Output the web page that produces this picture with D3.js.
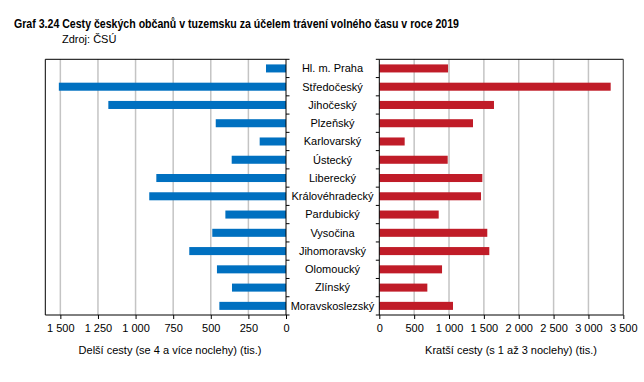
<!DOCTYPE html>
<html><head><meta charset="utf-8">
<script src="https://cdn.jsdelivr.net/npm/d3@7"></script>
<style>
body{margin:0;background:#fff;}
svg{display:block;font-family:"Liberation Sans",Arial,sans-serif;}
</style></head>
<body>
<svg id="c" width="644" height="382"></svg>
<script>
const categories = ["Hl. m. Praha","Středočeský","Jihočeský","Plzeňský","Karlovarský","Ústecký","Liberecký","Královéhradecký","Pardubický","Vysočina","Jihomoravský","Olomoucký","Zlínský","Moravskoslezský"];
const longTrips = [133,1510,1181,467,175,361,862,909,403,490,643,459,359,443];
const shortTrips = [986,3319,1645,1344,364,981,1478,1459,852,1549,1578,900,689,1057];
const leftTicks = [0,250,500,750,1000,1250,1500];
const rightTicks = [0,500,1000,1500,2000,2500,3000,3500];
const title = "Graf 3.24 Cesty českých občanů v tuzemsku za účelem trávení volného času v roce 2019";
const source = "Zdroj: ČSÚ";
const leftTitle = "Delší cesty (se 4 a více noclehy) (tis.)";
const rightTitle = "Kratší cesty (s 1 až 3 noclehy) (tis.)";

const svg = d3.select("#c");
const plotTop = 59.3, plotBottom = 315;
const fmt = v => d3.format(",")(v).replace(/,/g, " ");

const y = d3.scaleBand().domain(categories).range([plotTop, plotBottom]).paddingInner(0.56).paddingOuter(0.28);
const xL = d3.scaleLinear().domain([0,1600]).range([286,45.3]);
const xR = d3.scaleLinear().domain([0,3500]).range([379.3,623.3]);

// Title
svg.append("text").attr("x",14).attr("y",28).attr("font-size",13.5).attr("font-weight","bold")
  .attr("font-family","'Liberation Sans Narrow','Arial Narrow','Liberation Sans',Arial,sans-serif")
  .attr("textLength",445).attr("lengthAdjust","spacingAndGlyphs").text(title);
svg.append("text").attr("x",62).attr("y",43).attr("font-size",11)
  .attr("font-family","'Liberation Sans Narrow','Arial Narrow','Liberation Sans',Arial,sans-serif")
  .text(source);

const grid = "#c4c4c4";
// Gridlines
svg.append("g").selectAll("line").data(leftTicks.filter(d=>d>0)).join("line")
  .attr("x1",d=>xL(d)).attr("x2",d=>xL(d)).attr("y1",plotTop).attr("y2",plotBottom)
  .attr("stroke",grid).attr("stroke-width",1.5);
svg.append("g").selectAll("line").data(rightTicks.filter(d=>d>0 && d<3500)).join("line")
  .attr("x1",d=>xR(d)).attr("x2",d=>xR(d)).attr("y1",plotTop).attr("y2",plotBottom)
  .attr("stroke",grid).attr("stroke-width",1.5);

// Bars
svg.append("g").selectAll("rect").data(categories).join("rect")
  .attr("x",(d,i)=>xL(longTrips[i])).attr("y",d=>y(d))
  .attr("width",(d,i)=>xL(0)-xL(longTrips[i])).attr("height",y.bandwidth())
  .attr("fill","#0070c0");
svg.append("g").selectAll("rect").data(categories).join("rect")
  .attr("x",xR(0)).attr("y",d=>y(d))
  .attr("width",(d,i)=>xR(shortTrips[i])-xR(0)).attr("height",y.bandwidth())
  .attr("fill","#c01c28");

// Frames
svg.append("line").attr("x1",45.3).attr("x2",286).attr("y1",plotTop).attr("y2",plotTop).attr("stroke","#000");
svg.append("line").attr("x1",45.3).attr("x2",45.3).attr("y1",plotTop).attr("y2",plotBottom).attr("stroke","#000");
svg.append("line").attr("x1",379.3).attr("x2",623.3).attr("y1",plotTop).attr("y2",plotTop).attr("stroke","#000");
svg.append("line").attr("x1",623.3).attr("x2",623.3).attr("y1",plotTop).attr("y2",plotBottom).attr("stroke","#555").attr("stroke-width",1.2);

// Bottom axes
const axL = d3.axisBottom(xL).tickValues(leftTicks).tickSize(4).tickSizeOuter(0).tickPadding(5).tickFormat(fmt);
const gL = svg.append("g").attr("transform",`translate(0,${plotBottom})`).call(axL);
const axR = d3.axisBottom(xR).tickValues(rightTicks).tickSize(4).tickSizeOuter(0).tickPadding(5).tickFormat(fmt);
const gR = svg.append("g").attr("transform",`translate(0,${plotBottom})`).call(axR);
[gL,gR].forEach(g=>{
  g.select(".domain").attr("stroke","#000");
  g.selectAll(".tick line").attr("stroke","#000");
  g.selectAll("text").attr("font-size",11).attr("fill","#000").attr("font-family","'Liberation Sans',Arial,sans-serif");
});
gL.select(".domain").attr("d",`M45.3,0H286`);
gR.select(".domain").attr("d",`M379.3,0H623.3`);

// Vertical axes with boundary ticks
const bounds = d3.range(categories.length+1).map(i=>plotTop + i*y.step());
svg.append("line").attr("x1",286).attr("x2",286).attr("y1",plotTop).attr("y2",plotBottom).attr("stroke","#000");
svg.append("g").selectAll("line").data(bounds).join("line")
  .attr("x1",286).attr("x2",289.5).attr("y1",d=>d).attr("y2",d=>d).attr("stroke","#000");
svg.append("line").attr("x1",379.3).attr("x2",379.3).attr("y1",plotTop).attr("y2",plotBottom).attr("stroke","#000");
svg.append("g").selectAll("line").data(bounds).join("line")
  .attr("x1",375.8).attr("x2",379.3).attr("y1",d=>d).attr("y2",d=>d).attr("stroke","#000");

// Category labels
svg.append("g").selectAll("text").data(categories).join("text")
  .attr("x",332.5).attr("y",d=>y(d)+y.bandwidth()/2).attr("dy","0.35em")
  .attr("text-anchor","middle").attr("font-size",11).attr("fill","#000").text(d=>d);

// Axis titles
svg.append("text").attr("x",170).attr("y",354).attr("text-anchor","middle").attr("font-size",11).text(leftTitle);
svg.append("text").attr("x",511).attr("y",354).attr("text-anchor","middle").attr("font-size",11).text(rightTitle);
</script>
</body></html>
